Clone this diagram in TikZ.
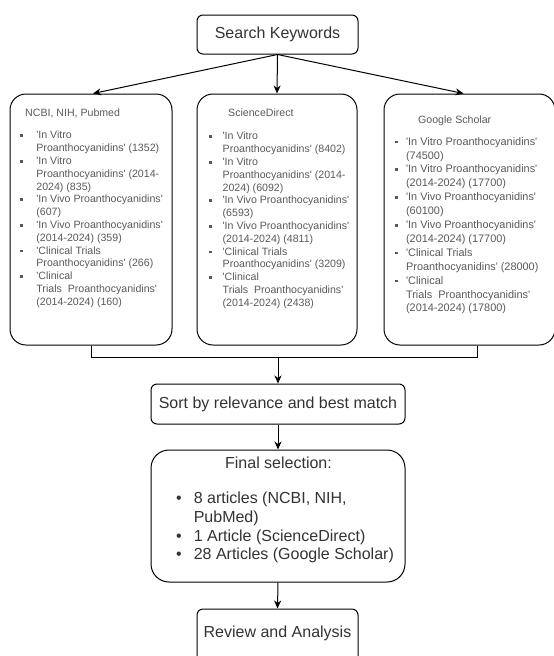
\documentclass[tikz,border=0pt]{standalone}
\usepackage{fontspec}
\setmainfont{Liberation Sans}
\usetikzlibrary{arrows.meta}
\definecolor{titlegray}{HTML}{333333}
\definecolor{listgray}{HTML}{595959}
\newcommand{\sqb}{\raisebox{2.0pt}{\rule{2.6pt}{2.6pt}}}
\newcommand{\q}{\textquotesingle}
\tikzset{
    stepbox/.style={draw, line width=1pt, rounded corners=6pt, text=titlegray,
        font=\fontsize{16}{19}\selectfont, inner sep=0pt},
    dbbox/.style={draw, line width=1pt, rounded corners=16pt, minimum height=251pt},
    arr/.style={-{Stealth[length=8pt,width=7pt,inset=2.5pt]}, line width=1pt},
    smalltext/.style={inner sep=0pt, text=listgray, font=\fontsize{10.6}{12.8}\selectfont, align=left},
    bigtext/.style={inner sep=0pt, text=titlegray, font=\fontsize{16}{18.7}\selectfont, align=left},
}
\begin{document}
\begin{tikzpicture}[x=1pt, y=-1pt]
        \useasboundingbox (0,0) rectangle (554,656);
        % Search
        \node[stepbox, minimum width=161pt, minimum height=39pt] (search) at (277.5,34.5) {Search Keywords};
        % Databases
        \node[dbbox, minimum width=162pt] (ncbi) at (91,219.5) {};
        \node[dbbox, minimum width=160pt] (sd) at (277,219.5) {};
        \node[dbbox, minimum width=171pt] (scholar) at (469.5,219.5) {};
        \draw[arr] (search.south) -- ([xshift=2pt]ncbi.north);
        \draw[arr] (search.south) -- (sd.north);
        \draw[arr] (search.south) -- ([xshift=-6pt]scholar.north);
        % NCBI
        \node[smalltext, anchor=west] (ncbihead) at (25,113) {NCBI, NIH, Pubmed};
        \node[smalltext, anchor=north west] (ncbilist) at (19.8,129.8) {%
            \begin{tabular}{@{}l@{\hspace{13.8pt}}l@{}}
            \sqb & \q In Vitro\\
                 & Proanthocyanidins\q{} (1352)\\
            \sqb & \q In Vitro\\
                 & Proanthocyanidins\q{} (2014-\\
                 & 2024) (835)\\
            \sqb & \q In Vivo Proanthocyanidins\q\\
                 & (607)\\
            \sqb & \q In Vivo Proanthocyanidins\q\\
                 & (2014-2024) (359)\\
            \sqb & \q Clinical Trials\\
                 & Proanthocyanidins\q{} (266)\\
            \sqb & \q Clinical\\
                 & Trials\ \ Proanthocyanidins\q\\
                 & (2014-2024) (160)
            \end{tabular}};
        % ScienceDirect
        \node[smalltext, anchor=west] (sdhead) at (228,113) {ScienceDirect};
        \node[smalltext, anchor=north west] (sdlist) at (208.8,130.8) {%
            \begin{tabular}{@{}l@{\hspace{11.1pt}}l@{}}
            \sqb & \q In Vitro\\
                 & Proanthocyanidins\q{} (8402)\\
            \sqb & \q In Vitro\\
                 & Proanthocyanidins\q{} (2014-\\
                 & 2024) (6092)\\
            \sqb & \q In Vivo Proanthocyanidins\q\\
                 & (6593)\\
            \sqb & \q In Vivo Proanthocyanidins\q\\
                 & (2014-2024) (4811)\\
            \sqb & \q Clinical Trials\\
                 & Proanthocyanidins\q{} (3209)\\
            \sqb & \q Clinical\\
                 & Trials\ \ Proanthocyanidins\q\\
                 & (2014-2024) (2438)
            \end{tabular}};
        % Google Scholar
        \node[smalltext, anchor=west] (scholarhead) at (418,121) {Google Scholar};
        \node[smalltext, font=\fontsize{10.9}{13.9}\selectfont, anchor=north west] (scholarlist) at (394.8,135.2) {%
            \begin{tabular}{@{}l@{\hspace{8.5pt}}l@{}}
            \sqb & \q In Vitro Proanthocyanidins\q\\
                 & (74500)\\
            \sqb & \q In Vitro Proanthocyanidins\q\\
                 & (2014-2024) (17700)\\
            \sqb & \q In Vivo Proanthocyanidins\q\\
                 & (60100)\\
            \sqb & \q In Vivo Proanthocyanidins\q\\
                 & (2014-2024) (17700)\\
            \sqb & \q Clinical Trials\\
                 & Proanthocyanidins\q{} (28000)\\
            \sqb & \q Clinical\\
                 & Trials\ \ Proanthocyanidins\q\\
                 & (2014-2024) (17800)
            \end{tabular}};
        % Merge
        \coordinate (merge) at (278,357.5);
        \draw[line width=1pt] (ncbi.south) -- (91,357.5) -- (477,357.5) -- ([xshift=7.5pt]scholar.south);
        % Sort, selection, review
        \node[stepbox, minimum width=254pt, minimum height=40pt] (sort) at (278,404) {Sort by relevance and best match};
        \node[draw, line width=1pt, rounded corners=18pt, minimum width=254pt, minimum height=132pt] (final) at (278,516) {};
        \node[bigtext] (finalhead) at (278.5,463) {Final selection:};
        \node[bigtext, anchor=north west] (finallist) at (176,490.6) {%
            \begin{tabular}{@{}l@{\hspace{12pt}}l@{}}
            \textbullet & 8 articles (NCBI, NIH,\\
                        & PubMed)\\
            \textbullet & 1 Article (ScienceDirect)\\
            \textbullet & 28 Articles (Google Scholar)
            \end{tabular}};
        \node[stepbox, minimum width=161pt, minimum height=62pt] (review) at (277.5,640) {};
        \node[bigtext] (reviewtext) at (277.5,633.5) {Review and Analysis};
        \draw[arr] (merge) -- (sort.north);
        \draw[arr] (sort.south) -- (final.north);
        \draw[arr] (final.south) -- (review.north);
    \end{tikzpicture}
\end{document}
